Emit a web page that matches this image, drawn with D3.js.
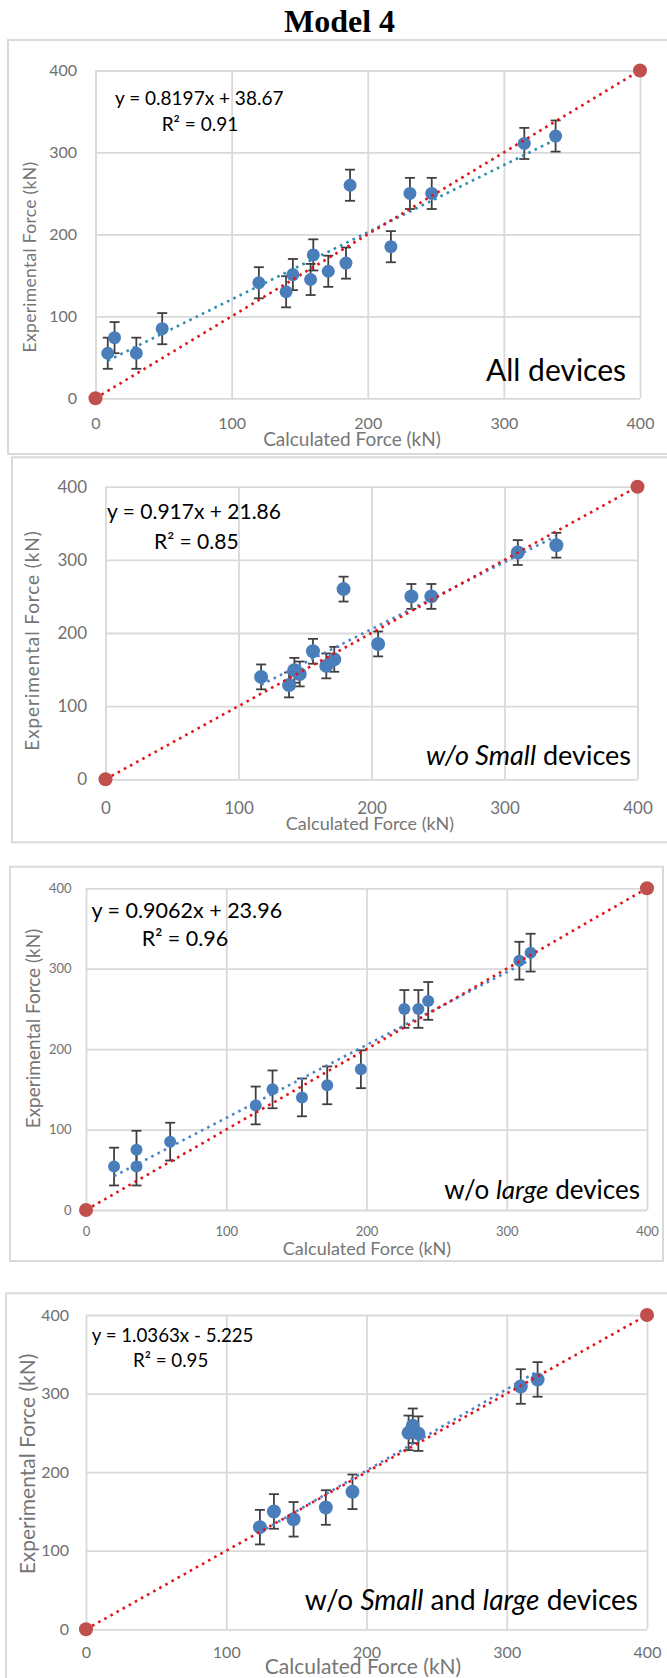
<!DOCTYPE html>
<html>
<head>
<meta charset="utf-8">
<script src="https://cdn.jsdelivr.net/npm/d3@7"></script>
<style>
  body { margin: 0; background: #fff; }
  svg { display: block; }
</style>
</head>
<body>
<div id="chart"></div>
<script>
// shared values
const ticks = [0, 100, 200, 300, 400];
const xTitle = "Calculated Force (kN)";
const yTitle = "Experimental Force (kN)";
const equality = [0, 400];   // 1:1 line end points (calc = exp)

// panel 1 : all devices
const allCalc = [9, 14, 30, 49, 120, 140, 145, 158, 160, 171, 184, 187, 217, 231, 247, 315, 338];
const allExp  = [55, 74, 55, 85, 141, 130, 151, 145, 175, 155, 165, 260, 185, 250, 250, 311, 320];
const allErr = 19;
const allFit = { slope: 0.8197, intercept: 38.67, eq: "y = 0.8197x + 38.67", r2: "R² = 0.91" };

// panel 2 : without small devices
const noSmallCalc = [117, 138, 142, 146, 156, 166, 172, 179, 205, 230, 245, 310, 339];
const noSmallExp  = [140, 129, 149, 144, 175, 155, 164, 260, 185, 250, 250, 310, 320];
const noSmallErr = 17;
const noSmallFit = { slope: 0.917, intercept: 21.86, eq: "y = 0.917x + 21.86", r2: "R² = 0.85" };

// panel 3 : without large devices
const noLargeCalc = [20, 36, 36, 60, 121, 133, 154, 172, 196, 227, 237, 244, 309, 317];
const noLargeExp  = [54, 75, 54, 85, 130, 150, 140, 155, 175, 250, 250, 260, 310, 320];
const noLargeErr = 23.5;
const noLargeFit = { slope: 0.9062, intercept: 23.96, eq: "y = 0.9062x + 23.96", r2: "R² = 0.96" };

// panel 4 : without small and large devices
const midCalc = [124, 134, 148, 171, 190, 230, 233, 237, 310, 322];
const midExp  = [130, 150, 140, 155, 175, 250, 259, 249, 309, 318];
const midErr = 22;
const midFit = { slope: 1.0363, intercept: -5.225, eq: "y = 1.0363x - 5.225", r2: "R² = 0.95" };

// layout of each panel (pixel positions)
const panels = [
  { calc: allCalc, exp: allExp, err: allErr, fit: allFit, trend: "#2f8cae",
    label: [{ t: "All devices" }],
    frame: [8, 40, 690, 414], x0: 95.5, x1: 640, y0: 398.3, y1: 70.5,
    tickFs: 16, yPad: 18.5, xPad: 19, r: 6.5,
    xt: [352, 446, 19], yt: [30, 257, 17.5, 0.3],
    eqPos: [115, 98.3, 124, 161.7, 19], lab: [626, 380.7, 30] },
  { calc: noSmallCalc, exp: noSmallExp, err: noSmallErr, fit: noSmallFit, trend: "#4c83cc",
    label: [{ t: "w/o Small", i: true }, { t: " devices" }],
    frame: [12, 457.3, 690, 385], x0: 105.5, x1: 637.5, y0: 779.3, y1: 486.7,
    tickFs: 17, yPad: 18.5, xPad: 23, r: 7,
    xt: [370, 830, 18], yt: [32, 640.5, 19, 0.9],
    eqPos: [107, 511.7, 541.7, 154, 21], lab: [631, 765, 27] },
  { calc: noLargeCalc, exp: noLargeExp, err: noLargeErr, fit: noLargeFit, trend: "#4c83cc",
    label: [{ t: "w/o " }, { t: "large", i: true }, { t: " devices" }],
    frame: [10, 866.7, 653, 394.3], x0: 86, x1: 647, y0: 1210, y1: 888.3,
    tickFs: 13, yPad: 14.5, xPad: 16.5, r: 6,
    xt: [367, 1254.6, 18], yt: [33, 1028.5, 19, 0],
    eqPos: [91.5, 910, 938.3, 141.7, 21.5], lab: [640, 1199.3, 26] },
  { calc: midCalc, exp: midExp, err: midErr, fit: midFit, trend: "#4c83cc",
    label: [{ t: "w/o " }, { t: "Small", i: true }, { t: " and " }, { t: "large", i: true }, { t: " devices" }],
    frame: [6, 1293.3, 690, 420], x0: 86, x1: 647, y0: 1629.3, y1: 1315,
    tickFs: 16, yPad: 17, xPad: 17.8, r: 7,
    xt: [363, 1674, 21], yt: [27.7, 1464, 21, 0],
    eqPos: [91.7, 1335, 1360, 133, 18.7], lab: [638, 1610, 28] }
];

const W = 667, H = 1678;
const font = "Lato, 'Open Sans', sans-serif";

const svg = d3.select("#chart").append("svg")
  .attr("width", W)
  .attr("height", H);

svg.append("rect").attr("width", W).attr("height", H).attr("fill", "#fff");

// main title
svg.append("text")
  .attr("x", 339.5)
  .attr("y", 31.5)
  .attr("text-anchor", "middle")
  .style("font-family", "'Liberation Serif', 'Times New Roman', serif")
  .style("font-weight", "bold")
  .style("font-size", "32px")
  .text("Model 4");

panels.forEach(p => {
  const [fx, fy, fw, fh] = p.frame;

  // outer frame
  svg.append("rect")
    .attr("x", fx).attr("y", fy)
    .attr("width", fw).attr("height", fh)
    .attr("fill", "#fff")
    .attr("stroke", "#d9d9d9")
    .attr("stroke-width", 2);

  const x = d3.scaleLinear().domain([0, 400]).range([p.x0, p.x1]);
  const y = d3.scaleLinear().domain([0, 400]).range([p.y0, p.y1]);
  const pw = p.x1 - p.x0, ph = p.y0 - p.y1;

  // gridlines + tick labels
  const gx = svg.append("g")
    .attr("transform", `translate(0,${p.y0})`)
    .call(d3.axisBottom(x).tickValues(ticks).tickSizeInner(-ph).tickSizeOuter(0).tickPadding(p.xPad));
  const gy = svg.append("g")
    .attr("transform", `translate(${p.x0},0)`)
    .call(d3.axisLeft(y).tickValues(ticks).tickSizeInner(-pw).tickSizeOuter(0).tickPadding(p.yPad));

  [gx, gy].forEach(g => {
    g.select(".domain").remove();
    g.selectAll("line").attr("stroke", "#d9d9d9").attr("stroke-width", 1.8);
    g.selectAll("text")
      .attr("fill", "#707070")
      .style("font-family", font)
      .style("font-size", p.tickFs + "px");
  });

  // axis titles
  svg.append("text")
    .attr("x", p.xt[0]).attr("y", p.xt[1])
    .attr("text-anchor", "middle")
    .attr("fill", "#767676")
    .style("font-family", font)
    .style("font-size", p.xt[2] + "px")
    .text(xTitle);

  svg.append("text")
    .attr("transform", `translate(${p.yt[0]},${p.yt[1]}) rotate(-90)`)
    .attr("text-anchor", "middle")
    .attr("dy", "0.35em")
    .attr("fill", "#767676")
    .style("font-family", font)
    .style("font-size", p.yt[2] + "px")
    .style("letter-spacing", p.yt[3] + "px")
    .text(yTitle);

  const pts = p.calc.map((c, i) => ({ c: c, e: p.exp[i] }));

  // error bars
  const eb = svg.append("g")
    .attr("stroke", "#404040")
    .attr("stroke-width", 1.8);
  pts.forEach(d => {
    eb.append("line")
      .attr("x1", x(d.c)).attr("x2", x(d.c))
      .attr("y1", y(d.e - p.err)).attr("y2", y(d.e + p.err));
    [d.e - p.err, d.e + p.err].forEach(v => {
      eb.append("line")
        .attr("x1", x(d.c) - 5).attr("x2", x(d.c) + 5)
        .attr("y1", y(v)).attr("y2", y(v));
    });
  });

  // data markers
  svg.append("g").selectAll("circle")
    .data(pts)
    .join("circle")
    .attr("cx", d => x(d.c))
    .attr("cy", d => y(d.e))
    .attr("r", p.r)
    .attr("fill", "#4a7ebb");

  // trendline from the fitted equation
  const xmin = d3.min(p.calc), xmax = d3.max(p.calc);
  svg.append("line")
    .attr("x1", x(xmin)).attr("y1", y(p.fit.slope * xmin + p.fit.intercept))
    .attr("x2", x(xmax)).attr("y2", y(p.fit.slope * xmax + p.fit.intercept))
    .attr("stroke", p.trend)
    .attr("stroke-width", 2.6)
    .attr("stroke-dasharray", "2.6 4.4");

  // 1:1 line with end markers
  svg.append("line")
    .attr("x1", x(equality[0])).attr("y1", y(equality[0]))
    .attr("x2", x(equality[1])).attr("y2", y(equality[1]))
    .attr("stroke", "#e0141b")
    .attr("stroke-width", 2.6)
    .attr("stroke-dasharray", "2.6 4.4");

  svg.append("g").selectAll("circle")
    .data(equality)
    .join("circle")
    .attr("cx", d => x(d))
    .attr("cy", d => y(d))
    .attr("r", 7)
    .attr("fill", "#c0504d");

  // equation + R²
  const [ex, ey, ry, rx, efs] = p.eqPos;
  svg.append("text")
    .attr("x", ex).attr("y", ey).attr("dy", "0.35em")
    .style("font-family", font).style("font-size", efs + "px")
    .text(p.fit.eq);
  svg.append("text")
    .attr("x", rx).attr("y", ry).attr("dy", "0.35em")
    .style("font-family", font).style("font-size", efs + "px")
    .text(p.fit.r2);

  // subset label
  const lt = svg.append("text")
    .attr("x", p.lab[0]).attr("y", p.lab[1])
    .attr("text-anchor", "end")
    .style("font-family", font)
    .style("font-size", p.lab[2] + "px");
  p.label.forEach(s => {
    lt.append("tspan")
      .style("font-style", s.i ? "italic" : "normal")
      .text(s.t);
  });
});
</script>
</body>
</html>
